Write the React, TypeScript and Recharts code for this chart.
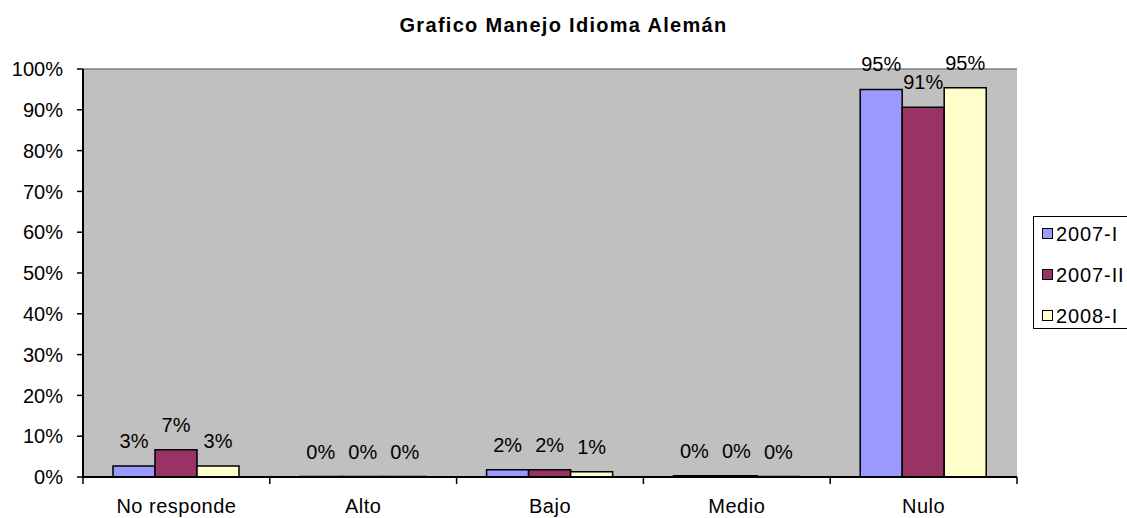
import { BarChart, Bar, XAxis, YAxis, CartesianGrid, LabelList, Legend, ReferenceLine } from "recharts";

const categories = ["No responde", "Alto", "Bajo", "Medio", "Nulo"];
const s2007I = [2.7, 0, 1.8, 0.3, 95.0];
const s2007II = [6.7, 0, 1.8, 0.3, 90.6];
const s2008I = [2.7, 0, 1.3, 0, 95.4];
const seriesNames = ["2007-I", "2007-II", "2008-I"];
const yTicks = [0, 10, 20, 30, 40, 50, 60, 70, 80, 90, 100];

const colors = ["#9999FF", "#993366", "#FFFFCC"];
const FONT = "Arial, 'Liberation Sans', sans-serif";

const W = 1127;
const H = 518;
const margin = { top: 69, right: 110, bottom: 0, left: 0 };
const yAxisW = 83;
const band = (W - margin.left - margin.right - yAxisW) / categories.length;

const data = categories.map((c, i) => ({
  name: c,
  a: s2007I[i],
  b: s2007II[i],
  c: s2008I[i],
}));

function XTick(props: any) {
  const { x, y, payload, index } = props;
  return (
    <g>
      <line x1={x - band / 2} x2={x - band / 2} y1={y} y2={y + 7} stroke="#000" strokeWidth={1.5} />
      {index === categories.length - 1 && (
        <line x1={x + band / 2} x2={x + band / 2} y1={y} y2={y + 7} stroke="#000" strokeWidth={1.5} />
      )}
      <text x={x} y={y + 36} textAnchor="middle" fontSize={20} fill="#000" fontFamily={FONT} letterSpacing={0.5}>
        {payload.value}
      </text>
    </g>
  );
}

function LegendBox(props: any) {
  const { payload } = props;
  return (
    <div
      style={{
        border: "1px solid #000",
        background: "#fff",
        width: 120,
        height: 113,
        boxSizing: "border-box",
        fontFamily: FONT,
        fontSize: 20,
        color: "#000",
      }}
    >
      {(payload || []).map((entry: any, i: number) => (
        <div key={i} style={{ display: "flex", alignItems: "center", height: 41, marginTop: i === 0 ? -4 : 0 }}>
          <span
            style={{
              display: "inline-block",
              width: 9,
              height: 9,
              marginLeft: 8,
              marginRight: 3,
              background: entry.color,
              border: "1px solid #000",
            }}
          />
          <span style={{ letterSpacing: 0.9, lineHeight: "20px" }}>{entry.value}</span>
        </div>
      ))}
    </div>
  );
}

const fmt = (v: any) => `${Math.round(Number(v))}%`;

export default function App() {
  return (
    <div style={{ position: "absolute", left: 0, top: 0, width: W, height: H, background: "#fff" }}>
      <div
        style={{
          position: "absolute",
          top: 14,
          left: 0,
          width: W,
          textAlign: "center",
          fontFamily: FONT,
          fontWeight: "bold",
          fontSize: 20,
          letterSpacing: 1.3,
          color: "#000",
        }}
      >
        Grafico Manejo Idioma Alemán
      </div>
      <BarChart width={W} height={H} data={data} margin={margin} barGap={0}>
        <CartesianGrid horizontal={false} vertical={false} fill="#C0C0C0" />
        <XAxis
          dataKey="name"
          interval={0}
          height={41}
          tickSize={0}
          tickMargin={0}
          tickLine={false}
          axisLine={{ stroke: "#000", strokeWidth: 2 }}
          tick={<XTick />}
        />
        <YAxis
          width={yAxisW}
          domain={[0, 100]}
          ticks={yTicks}
          tickFormatter={(v: number) => `${v}%`}
          tickSize={6}
          tickMargin={14}
          tickLine={{ stroke: "#000", strokeWidth: 1.5 }}
          axisLine={{ stroke: "#000", strokeWidth: 2 }}
          tick={{ fill: "#000", fontSize: 20, fontFamily: FONT }}
          interval={0}
        />
        <YAxis
          yAxisId="right"
          orientation="right"
          width={0}
          domain={[0, 100]}
          tick={false}
          tickLine={false}
          axisLine={{ stroke: "#808080", strokeWidth: 1.5 }}
        />
        <ReferenceLine y={100} stroke="#808080" strokeWidth={1.5} />
        <Legend
          layout="horizontal"
          verticalAlign="middle"
          align="center"
          wrapperStyle={{ left: 1033, top: 216, width: 120 }}
          content={<LegendBox />}
        />
        <Bar dataKey="a" name={seriesNames[0]} fill={colors[0]} stroke="#000" strokeWidth={1.5} barSize={42} minPointSize={0.5} isAnimationActive={false}>
          <LabelList dataKey="a" position="top" offset={18} formatter={fmt} fill="#000" fontSize={20} fontFamily={FONT} />
        </Bar>
        <Bar dataKey="b" name={seriesNames[1]} fill={colors[1]} stroke="#000" strokeWidth={1.5} barSize={42} minPointSize={0.5} isAnimationActive={false}>
          <LabelList dataKey="b" position="top" offset={18} formatter={fmt} fill="#000" fontSize={20} fontFamily={FONT} />
        </Bar>
        <Bar dataKey="c" name={seriesNames[2]} fill={colors[2]} stroke="#000" strokeWidth={1.5} barSize={42} minPointSize={0.5} isAnimationActive={false}>
          <LabelList dataKey="c" position="top" offset={18} formatter={fmt} fill="#000" fontSize={20} fontFamily={FONT} />
        </Bar>
      </BarChart>
    </div>
  );
}
